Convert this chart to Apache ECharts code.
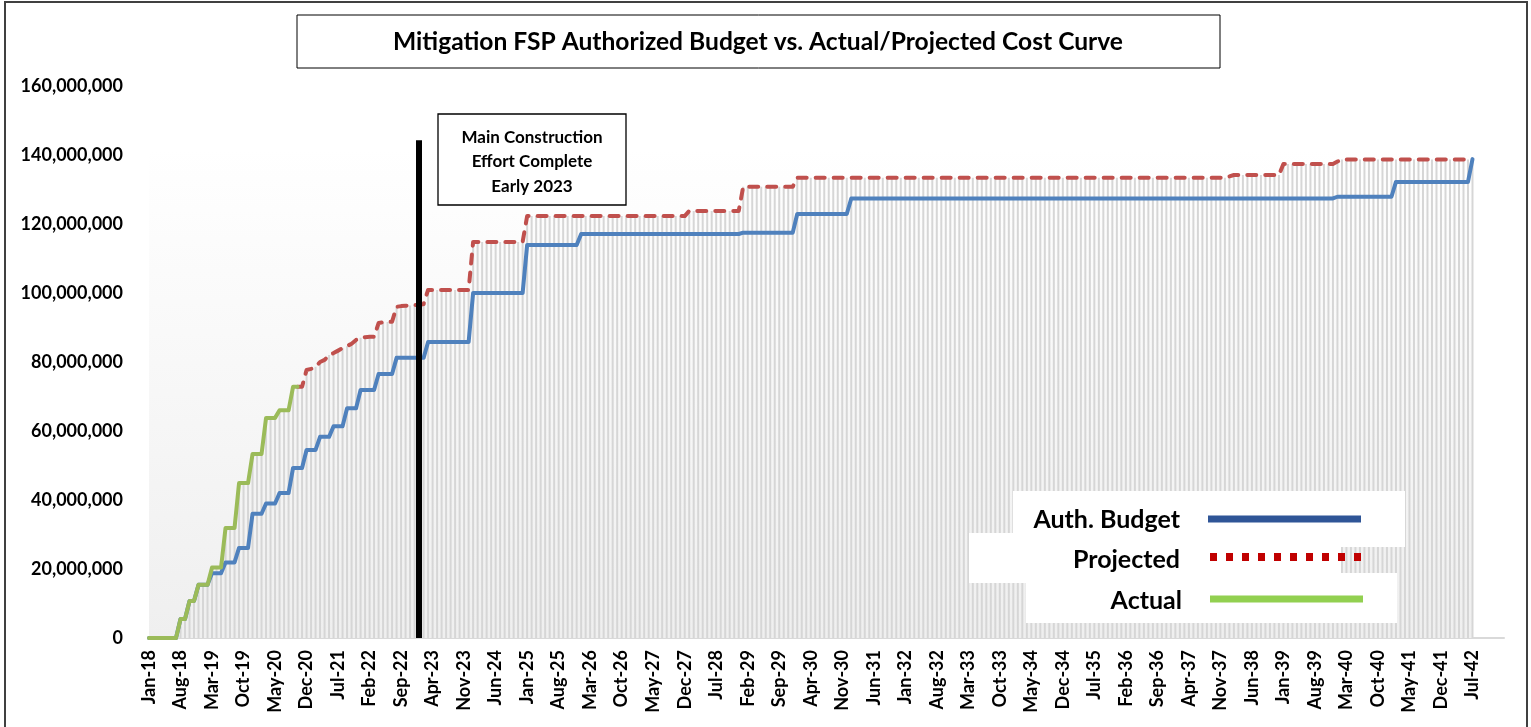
<!DOCTYPE html>
<html>
<head>
<meta charset="utf-8">
<script src="https://cdn.jsdelivr.net/npm/echarts/dist/echarts.min.js"></script>
<style>
  html, body { margin: 0; padding: 0; background: #ffffff; }
  #chart { width: 1531px; height: 727px; }
</style>
</head>
<body>
<div id="chart"></div>
<script>
// ---------------- DATA (values in millions of dollars) ----------------
const MONTHS = ['Jan','Feb','Mar','Apr','May','Jun','Jul','Aug','Sep','Oct','Nov','Dec'];
const FIRST_YEAR = 2018;
const CATEGORY_COUNT = 302;      // Jan-18 .. Feb-43 (axis runs a little past the data)
const LAST_LABEL_INDEX = 294;    // Jul-42
const LABEL_STEP = 7;            // a tick label every 7 months

const Y_TICKS = { min: 0, max: 160, interval: 20 };

// Authorized budget, one value per month from Jan-18 to Jul-42
const AUTH_BUDGET = [
  /*2018*/ 0, 0, 0, 0, 0, 0, 0, 5.5, 5.5, 10.7, 10.7, 15.4,
  /*2019*/ 15.4, 15.4, 18.8, 18.8, 18.8, 21.9, 21.9, 21.9, 26.1, 26.1, 26.1, 36.0,
  /*2020*/ 36.0, 36.0, 39.0, 39.0, 39.0, 42.0, 42.0, 42.0, 49.3, 49.3, 49.3, 54.5,
  /*2021*/ 54.5, 54.5, 58.3, 58.3, 58.3, 61.4, 61.4, 61.4, 66.6, 66.6, 66.6, 71.9,
  /*2022*/ 71.9, 71.9, 71.9, 76.5, 76.5, 76.5, 76.5, 81.2, 81.2, 81.2, 81.2, 81.2,
  /*2023*/ 81.2, 81.2, 85.8, 85.8, 85.8, 85.8, 85.8, 85.8, 85.8, 85.8, 85.8, 85.8,
  /*2024*/ 100.0, 100.0, 100.0, 100.0, 100.0, 100.0, 100.0, 100.0, 100.0, 100.0, 100.0, 100.0,
  /*2025*/ 113.9, 113.9, 113.9, 113.9, 113.9, 113.9, 113.9, 113.9, 113.9, 113.9, 113.9, 113.9,
  /*2026*/ 117.1, 117.1, 117.1, 117.1, 117.1, 117.1, 117.1, 117.1, 117.1, 117.1, 117.1, 117.1,
  /*2027*/ 117.1, 117.1, 117.1, 117.1, 117.1, 117.1, 117.1, 117.1, 117.1, 117.1, 117.1, 117.1,
  /*2028*/ 117.1, 117.1, 117.1, 117.1, 117.1, 117.1, 117.1, 117.1, 117.1, 117.1, 117.1, 117.1,
  /*2029*/ 117.5, 117.5, 117.5, 117.5, 117.5, 117.5, 117.5, 117.5, 117.5, 117.5, 117.5, 117.5,
  /*2030*/ 122.9, 122.9, 122.9, 122.9, 122.9, 122.9, 122.9, 122.9, 122.9, 122.9, 122.9, 122.9,
  /*2031*/ 127.4, 127.4, 127.4, 127.4, 127.4, 127.4, 127.4, 127.4, 127.4, 127.4, 127.4, 127.4,
  /*2032*/ 127.4, 127.4, 127.4, 127.4, 127.4, 127.4, 127.4, 127.4, 127.4, 127.4, 127.4, 127.4,
  /*2033*/ 127.4, 127.4, 127.4, 127.4, 127.4, 127.4, 127.4, 127.4, 127.4, 127.4, 127.4, 127.4,
  /*2034*/ 127.4, 127.4, 127.4, 127.4, 127.4, 127.4, 127.4, 127.4, 127.4, 127.4, 127.4, 127.4,
  /*2035*/ 127.4, 127.4, 127.4, 127.4, 127.4, 127.4, 127.4, 127.4, 127.4, 127.4, 127.4, 127.4,
  /*2036*/ 127.4, 127.4, 127.4, 127.4, 127.4, 127.4, 127.4, 127.4, 127.4, 127.4, 127.4, 127.4,
  /*2037*/ 127.4, 127.4, 127.4, 127.4, 127.4, 127.4, 127.4, 127.4, 127.4, 127.4, 127.4, 127.4,
  /*2038*/ 127.4, 127.4, 127.4, 127.4, 127.4, 127.4, 127.4, 127.4, 127.4, 127.4, 127.4, 127.4,
  /*2039*/ 127.4, 127.4, 127.4, 127.4, 127.4, 127.4, 127.4, 127.4, 127.4, 127.4, 127.4, 127.4,
  /*2040*/ 127.9, 127.9, 127.9, 127.9, 127.9, 127.9, 127.9, 127.9, 127.9, 127.9, 127.9, 127.9,
  /*2041*/ 127.9, 132.2, 132.2, 132.2, 132.2, 132.2, 132.2, 132.2, 132.2, 132.2, 132.2, 132.2,
  /*2042*/ 132.2, 132.2, 132.2, 132.2, 132.2, 132.2, 138.8
];

// Projected cost, one value per month starting Oct-20
const PROJECTED_START = 33; // index of Oct-20
const PROJECTED = [
  /*2020 Oct-Dec*/ 72.8, 72.8, 77.7,
  /*2021*/ 78.0, 78.6, 80.0, 80.6, 82.0, 82.6, 83.3, 84.0, 84.6, 85.3, 86.4, 87.0,
  /*2022*/ 87.2, 87.3, 87.3, 91.3, 91.5, 91.6, 91.7, 96.0, 96.2, 96.3, 96.4, 96.5,
  /*2023*/ 96.5, 96.8, 100.9, 100.9, 100.9, 100.9, 100.9, 100.9, 100.9, 100.9, 100.9, 100.9,
  /*2024*/ 114.8, 114.8, 114.8, 114.8, 114.8, 114.8, 114.8, 114.8, 114.8, 114.8, 114.8, 114.8,
  /*2025*/ 122.3, 122.3, 122.3, 122.3, 122.3, 122.3, 122.3, 122.3, 122.3, 122.3, 122.3, 122.3,
  /*2026*/ 122.3, 122.3, 122.3, 122.3, 122.3, 122.3, 122.3, 122.3, 122.3, 122.3, 122.3, 122.3,
  /*2027*/ 122.3, 122.3, 122.3, 122.3, 122.3, 122.3, 122.3, 122.3, 122.3, 122.3, 122.3, 122.3,
  /*2028*/ 123.8, 123.8, 123.8, 123.8, 123.8, 123.8, 123.8, 123.8, 123.8, 123.8, 123.8, 123.8,
  /*2029*/ 130.8, 130.8, 130.8, 130.8, 130.8, 130.8, 130.8, 130.8, 130.8, 130.8, 130.8, 130.8,
  /*2030*/ 133.4, 133.4, 133.4, 133.4, 133.4, 133.4, 133.4, 133.4, 133.4, 133.4, 133.4, 133.4,
  /*2031*/ 133.4, 133.4, 133.4, 133.4, 133.4, 133.4, 133.4, 133.4, 133.4, 133.4, 133.4, 133.4,
  /*2032*/ 133.4, 133.4, 133.4, 133.4, 133.4, 133.4, 133.4, 133.4, 133.4, 133.4, 133.4, 133.4,
  /*2033*/ 133.4, 133.4, 133.4, 133.4, 133.4, 133.4, 133.4, 133.4, 133.4, 133.4, 133.4, 133.4,
  /*2034*/ 133.4, 133.4, 133.4, 133.4, 133.4, 133.4, 133.4, 133.4, 133.4, 133.4, 133.4, 133.4,
  /*2035*/ 133.4, 133.4, 133.4, 133.4, 133.4, 133.4, 133.4, 133.4, 133.4, 133.4, 133.4, 133.4,
  /*2036*/ 133.4, 133.4, 133.4, 133.4, 133.4, 133.4, 133.4, 133.4, 133.4, 133.4, 133.4, 133.4,
  /*2037*/ 133.4, 133.4, 133.4, 133.4, 133.4, 133.4, 133.4, 133.4, 133.4, 133.4, 133.4, 133.4,
  /*2038*/ 133.8, 134.2, 134.2, 134.2, 134.2, 134.2, 134.2, 134.2, 134.2, 134.2, 134.2, 134.2,
  /*2039*/ 137.4, 137.4, 137.4, 137.4, 137.4, 137.4, 137.4, 137.4, 137.4, 137.4, 137.4, 137.4,
  /*2040*/ 138.1, 138.7, 138.7, 138.7, 138.7, 138.7, 138.7, 138.7, 138.7, 138.7, 138.7, 138.7,
  /*2041*/ 138.7, 138.7, 138.7, 138.7, 138.7, 138.7, 138.7, 138.7, 138.7, 138.7, 138.7, 138.7,
  /*2042*/ 138.7, 138.7, 138.7, 138.7, 138.7, 138.7, 138.7
];

// Actual cost, one value per month from Jan-18 to Oct-20
const ACTUAL = [
  /*2018*/ 0, 0, 0, 0, 0, 0, 0, 5.5, 5.5, 10.7, 10.7, 15.4,
  /*2019*/ 15.4, 15.4, 20.4, 20.4, 20.4, 31.9, 31.9, 31.9, 44.9, 44.9, 44.9, 53.3,
  /*2020*/ 53.3, 53.3, 63.8, 63.8, 63.8, 66.0, 66.0, 66.0, 72.8, 72.8
];

// Milestone marker and plot-area shading (data coordinates)
const MILESTONE = { month: 'Jan-23', top: 144.3 };
const SHADE_TOP = 142;

const TITLE = 'Mitigation FSP Authorized Budget vs. Actual/Projected Cost Curve';
const NOTE_LINES = ['Main Construction', 'Effort Complete', 'Early 2023'];
const LEGEND_NAMES = ['Auth. Budget', 'Projected', 'Actual'];

// ---------------- BUILD ----------------
const categories = [];
for (let i = 0; i < CATEGORY_COUNT; i++) {
  const y = FIRST_YEAR + Math.floor(i / 12);
  categories.push(MONTHS[i % 12] + '-' + String(y).slice(2));
}
const projectedData = categories.map((_, i) => {
  const k = i - PROJECTED_START;
  return (k >= 0 && k < PROJECTED.length) ? PROJECTED[k] : null;
});
const dropData = categories.map((_, i) => i < ACTUAL.length ? ACTUAL[i] : projectedData[i]);

const FONT = 'Lato, "Open Sans", sans-serif';

const chart = echarts.init(document.getElementById('chart'), null, { renderer: 'canvas' });

const option = {
  animation: false,
  backgroundColor: '#ffffff',
  textStyle: { fontFamily: FONT },
  grid: { left: 149, right: 27, top: 86, bottom: 89, containLabel: false },
  xAxis: {
    type: 'category',
    data: categories,
    boundaryGap: false,
    axisLine: { show: true, lineStyle: { color: '#d9d9d9', width: 2 } },
    axisTick: { show: false },
    splitLine: { show: false },
    axisLabel: {
      interval: (idx) => idx % LABEL_STEP === 0 && idx <= LAST_LABEL_INDEX,
      rotate: 90,
      margin: 12,
      color: '#000',
      fontWeight: 'bold',
      fontSize: 18,
      fontFamily: FONT
    }
  },
  yAxis: {
    type: 'value',
    min: Y_TICKS.min,
    max: Y_TICKS.max,
    interval: Y_TICKS.interval,
    axisLine: { show: false },
    axisTick: { show: false },
    splitLine: { show: false },
    axisLabel: {
      margin: 26,
      color: '#000',
      fontWeight: 'bold',
      fontSize: 18,
      fontFamily: FONT,
      formatter: (v) => Math.round(v * 1e6).toLocaleString('en-US')
    }
  },
  series: [
    {
      name: 'Drop lines',
      type: 'bar',
      data: dropData,
      barWidth: 2,
      itemStyle: { color: '#d6d6d6' },
      silent: true,
      z: 2,
      markArea: {
        silent: true,
        z: 1,
        itemStyle: {
          color: new echarts.graphic.LinearGradient(0, 0, 0, 1, [
            { offset: 0, color: '#ffffff' },
            { offset: 1, color: '#efefef' }
          ])
        },
        data: [[
          { coord: [categories[0], 0] },
          { coord: [categories[categories.length - 1], SHADE_TOP] }
        ]]
      }
    },
    {
      name: LEGEND_NAMES[0],
      type: 'line',
      data: AUTH_BUDGET,
      symbol: 'none',
      z: 3,
      lineStyle: { color: '#4f81bd', width: 4, cap: 'round', join: 'round' },
      markLine: {
        silent: true,
        symbol: 'none',
        label: { show: false },
        lineStyle: { color: '#000', width: 6, type: 'solid' },
        data: [[
          { coord: [MILESTONE.month, 0] },
          { coord: [MILESTONE.month, MILESTONE.top] }
        ]]
      }
    },
    {
      name: LEGEND_NAMES[1],
      type: 'line',
      data: projectedData,
      symbol: 'none',
      z: 4,
      lineStyle: { color: '#c0504d', width: 4, type: [9, 9], cap: 'round', join: 'round' }
    },
    {
      name: LEGEND_NAMES[2],
      type: 'line',
      data: ACTUAL,
      symbol: 'none',
      z: 5,
      lineStyle: { color: '#9bbb59', width: 4, cap: 'round', join: 'round' }
    }
  ],
  graphic: [
    // outer chart border
    { type: 'rect', z: 100, silent: true, shape: { x: 5, y: 2, width: 1522, height: 745 },
      style: { fill: 'none', stroke: '#404040', lineWidth: 2 } },
    // title box
    { type: 'rect', z: 100, silent: true, shape: { x: 297, y: 15, width: 923, height: 53 },
      style: { fill: '#ffffff', stroke: '#000', lineWidth: 1 } },
    { type: 'text', z: 101, silent: true, x: 758, y: 42,
      style: { text: TITLE, fill: '#000', font: 'bold 24.6px ' + FONT, align: 'center', verticalAlign: 'middle' } },
    // annotation box
    { type: 'rect', z: 100, silent: true, shape: { x: 438, y: 114, width: 188, height: 91 },
      style: { fill: '#ffffff', stroke: '#000', lineWidth: 1.3 } },
    { type: 'text', z: 101, silent: true, x: 532, y: 138,
      style: { text: NOTE_LINES[0], fill: '#000', font: 'bold 17px ' + FONT, align: 'center', verticalAlign: 'middle' } },
    { type: 'text', z: 101, silent: true, x: 532, y: 162,
      style: { text: NOTE_LINES[1], fill: '#000', font: 'bold 17px ' + FONT, align: 'center', verticalAlign: 'middle' } },
    { type: 'text', z: 101, silent: true, x: 532, y: 187,
      style: { text: NOTE_LINES[2], fill: '#000', font: 'bold 17px ' + FONT, align: 'center', verticalAlign: 'middle' } },
    // legend backgrounds
    { type: 'rect', z: 100, silent: true, shape: { x: 1013, y: 491, width: 392, height: 56 }, style: { fill: '#ffffff' } },
    { type: 'rect', z: 100, silent: true, shape: { x: 969, y: 533, width: 372, height: 50 }, style: { fill: '#ffffff' } },
    { type: 'rect', z: 100, silent: true, shape: { x: 1026, y: 573, width: 371, height: 50 }, style: { fill: '#ffffff' } },
    // legend entries
    { type: 'text', z: 101, silent: true, x: 1180, y: 520,
      style: { text: LEGEND_NAMES[0], fill: '#000', font: 'bold 25px ' + FONT, align: 'right', verticalAlign: 'middle' } },
    { type: 'line', z: 101, silent: true, shape: { x1: 1208, y1: 519, x2: 1361, y2: 519 },
      style: { stroke: '#2f5597', lineWidth: 7 } },
    { type: 'text', z: 101, silent: true, x: 1180, y: 560,
      style: { text: LEGEND_NAMES[1], fill: '#000', font: 'bold 25px ' + FONT, align: 'right', verticalAlign: 'middle' } },
    { type: 'line', z: 101, silent: true, shape: { x1: 1210, y1: 557, x2: 1361, y2: 557 },
      style: { stroke: '#c00000', lineWidth: 8, lineDash: [7, 9] } },
    { type: 'text', z: 101, silent: true, x: 1182, y: 601,
      style: { text: LEGEND_NAMES[2], fill: '#000', font: 'bold 25px ' + FONT, align: 'right', verticalAlign: 'middle' } },
    { type: 'line', z: 101, silent: true, shape: { x1: 1210, y1: 599, x2: 1363, y2: 599 },
      style: { stroke: '#92d050', lineWidth: 7 } }
  ]
};

chart.setOption(option);
</script>
</body>
</html>
